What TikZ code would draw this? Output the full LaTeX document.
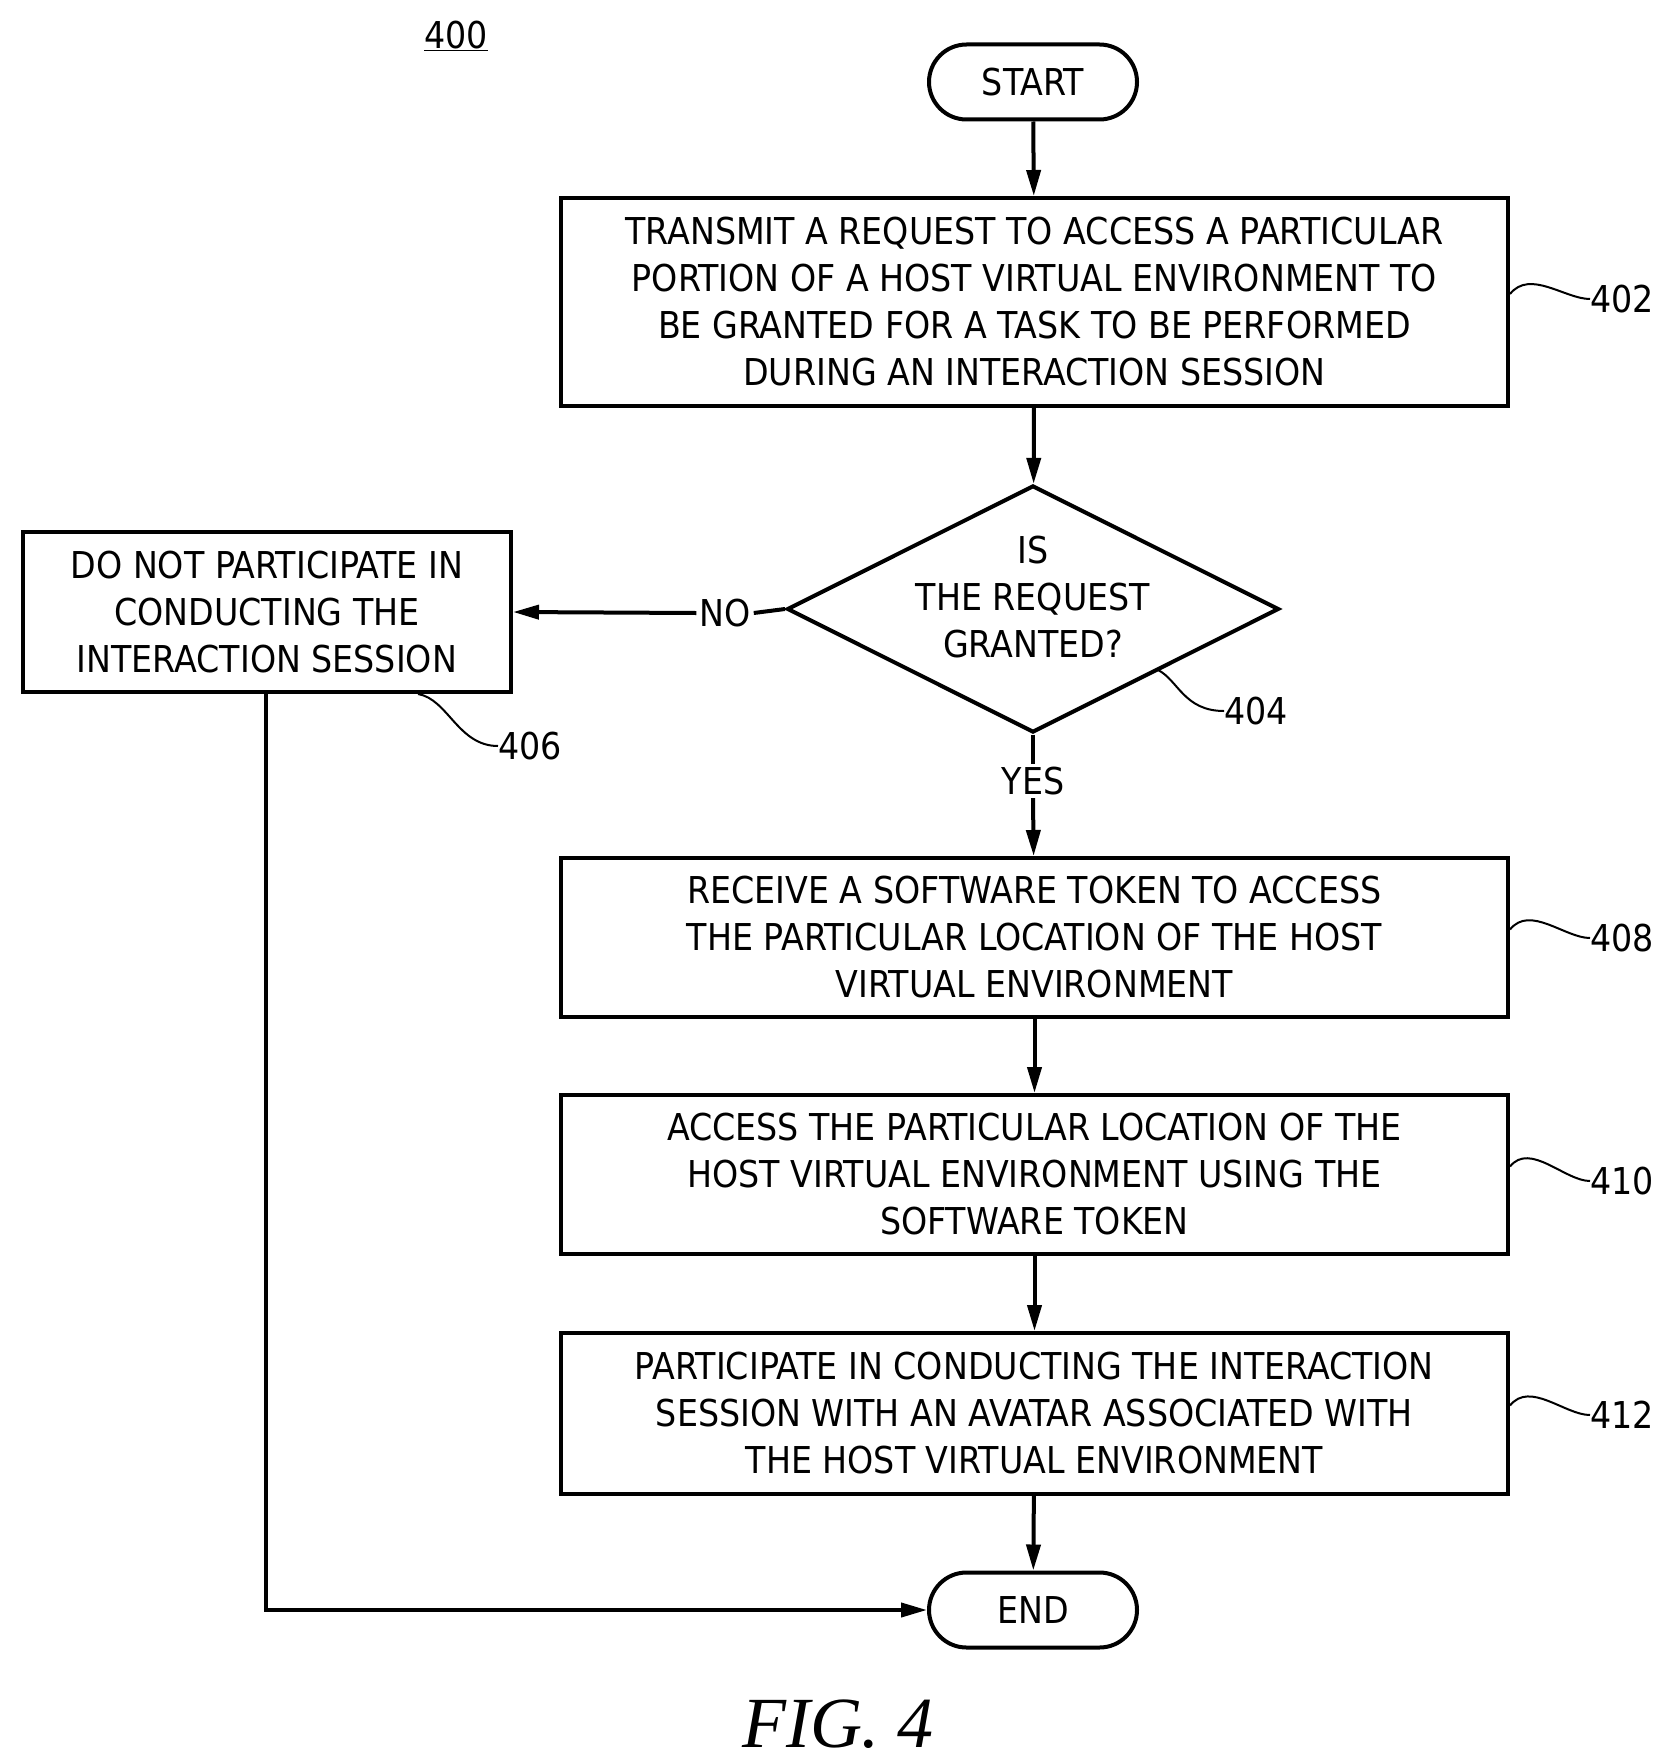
\documentclass[tikz,border=0pt]{standalone}
\usepackage{fontspec}
\setmainfont{DejaVu Sans Condensed}
\newfontfamily\figfont{Liberation Serif}
\usetikzlibrary{shapes.geometric,shapes.misc,arrows.meta}
\begin{document}
\begin{tikzpicture}[x=1pt,y=-1pt,
  every node/.style={font=\fontsize{37}{47}\selectfont},
  box/.style={draw,line width=4pt,minimum width=947pt,align=center,inner sep=0pt},
  term/.style={draw,line width=4pt,rounded rectangle,minimum width=208pt,minimum height=75pt,inner sep=0pt},
  arr/.style={line width=4pt,-{Triangle[length=26pt,width=14pt]}},
  lead/.style={line width=2pt},
  lbl/.style={anchor=west,inner sep=0pt}]
\useasboundingbox (0,0) rectangle (1665,1763);
\node[lbl,anchor=center] (n400) at (456,36) {\underline{400}};
\node[term] (start) at (1033,82) {START};
\node[box,minimum height=208pt] (b402) at (1034.5,302) {TRANSMIT A REQUEST TO ACCESS A PARTICULAR\\PORTION OF A HOST VIRTUAL ENVIRONMENT TO\\BE GRANTED FOR A TASK TO BE PERFORMED\\DURING AN INTERACTION SESSION};
\node[draw,line width=4pt,diamond,aspect=2,minimum width=492pt,minimum height=247pt,inner sep=0pt,align=center] (d404) at (1033,609) {};
\node[align=center] at (1033,597) {IS\\THE REQUEST\\GRANTED?};
\node[box,minimum width=488pt,minimum height=160pt] (b406) at (267,612) {DO NOT PARTICIPATE IN\\CONDUCTING THE\\INTERACTION SESSION};
\node[box,minimum height=159pt] (b408) at (1034.5,937.5) {RECEIVE A SOFTWARE TOKEN TO ACCESS\\THE PARTICULAR LOCATION OF THE HOST\\VIRTUAL ENVIRONMENT};
\node[box,minimum height=159pt] (b410) at (1034.5,1174.5) {ACCESS THE PARTICULAR LOCATION OF THE\\HOST VIRTUAL ENVIRONMENT USING THE\\SOFTWARE TOKEN};
\node[box,minimum height=161pt] (b412) at (1034.5,1413.5) {PARTICIPATE IN CONDUCTING THE INTERACTION\\SESSION WITH AN AVATAR ASSOCIATED WITH\\THE HOST VIRTUAL ENVIRONMENT};
\node[term] (end) at (1033,1610) {END};
\node[fill=white,inner sep=3pt] (no) at (725,613) {NO};
\node[fill=white,inner sep=3pt] (yes) at (1033,781) {YES};
\coordinate (corner) at (266,1610);
\draw[arr] (start) -- (b402);
\draw[arr] (b402) -- (d404);
\draw[line width=4pt] (d404.south) -- (yes.north);
\draw[arr] (yes.south) -- (b408);
\draw[line width=4pt] (d404.west) -- (no.east);
\draw[arr] (no.west) -- (b406.east);
\draw[arr] (b408) -- (b410);
\draw[arr] (b410) -- (b412);
\draw[arr] (b412) -- (end);
\draw[arr] (b406.south -| corner) -- (corner) -- (end.west);
% labels
\node[lbl] (l402) at (1590,299) {402};
\node[lbl] (l404) at (1224,711) {404};
\node[lbl] (l406) at (498,746) {406};
\node[lbl] (l408) at (1590,938) {408};
\node[lbl] (l410) at (1590,1181) {410};
\node[lbl] (l412) at (1590,1415) {412};
\foreach \b/\l in {b402/l402,b408/l408,b410/l410,b412/l412}
  \draw[lead] ([yshift=8pt]\b.east) .. controls +(20,-25) and +(-25,0) .. (\l.west);
\draw[lead] (1158,670) .. controls +(20,10) and +(-40,0) .. (l404.west);
\draw[lead] (418,694) .. controls +(30,5) and +(-40,0) .. (l406.west);
\node (fig) at (838,1724) {\figfont\itshape\fontsize{72}{80}\selectfont FIG. 4};
\end{tikzpicture}
\end{document}
